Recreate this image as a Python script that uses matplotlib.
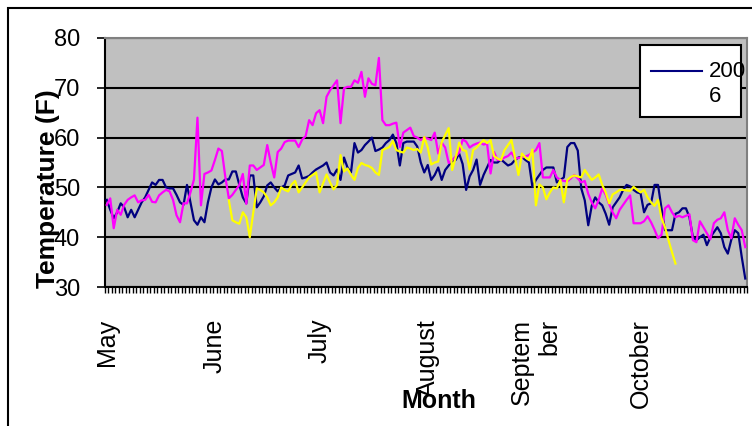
import numpy as np
import matplotlib
matplotlib.use("Agg")
import matplotlib.pyplot as plt
from matplotlib.patches import Rectangle
from matplotlib.lines import Line2D

plt.rcParams['font.family'] = ['Liberation Sans', 'DejaVu Sans']

# daily temperatures, 1 May .. 31 Oct (184 days)
months = ["May", "June", "July", "August", "Septem\nber", "October"]
month_start = [0, 31, 61, 92, 123, 153]

t_2006 = [47.5, 45.5, 43.8, 45, 46.8, 46, 44, 45.5, 44, 45.5,
          47, 48, 49.5, 51, 50.5, 51.5, 51.5, 50, 49.8, 49.8,
          48.5, 47, 46.5, 50.5, 47, 43.4, 42.5, 44, 43, 47,
          50, 51.6, 50.6, 51, 51.6, 51.6, 53.2, 53.2, 50.5, 48,
          46.8, 52.4, 52.4, 46, 47, 48.2, 50.4, 51, 50, 49.2,
          50, 50.4, 52.4, 52.7, 53, 54.4, 51.8, 52, 52.3, 53,
          53.6, 54, 54.4, 55, 53, 52.4, 53.6, 51.5, 56, 54,
          53, 58.9, 57, 57.5, 58.5, 59.2, 60, 57.3, 57.6, 58,
          58.9, 59.5, 60.6, 58.9, 54.4, 58.9, 59.2, 59.2, 59.2, 58.2,
          55, 53, 54.5, 51.5, 52.5, 54, 51.5, 53.5, 54.4, 55.3,
          55.5, 56.8, 54.7, 49.5, 52.2, 53.5, 55.6, 50.5, 52.5, 54,
          55.5, 55, 55, 55.6, 55, 54.4, 54.7, 55.5, 56, 56.1,
          55.5, 55, 50.1, 51.5, 52.5, 53.5, 54, 54, 54, 51,
          51.5, 52, 58.1, 58.9, 58.9, 57.4, 49.8, 47.4, 42.4, 46.3,
          48, 47, 46.4, 44.7, 42.5, 46, 47, 48, 49.5, 50.5,
          50.2, 49.5, 49, 48.8, 45, 46.5, 46.8, 50.5, 50.5, 45.8,
          41.4, 41.4, 41.4, 44.7, 45, 45.8, 45.8, 44, 40, 39.4,
          40, 40.5, 38.4, 40, 41, 42, 40.8, 38, 36.7, 39.5,
          41.4, 40.8, 36, 31.7]

t_magenta = [46.5, 47.8, 41.8, 45.5, 44.5, 46.5, 47.5, 48, 48.4, 47,
             47.4, 47.5, 48.5, 47.1, 47, 48.4, 49, 49.5, 49.2, 47.5,
             44.4, 43, 46.8, 46.8, 49, 51.6, 64, 46.4, 52.7, 53,
             53.4, 55.5, 57.8, 57.3, 52, 47.8, 48.5, 49.5, 50.5, 52.7,
             46.7, 54.4, 54.4, 53.5, 54, 54.5, 58.5, 55, 52, 57.1,
             57.8, 59.1, 59.4, 59.4, 59.4, 58.1, 59.6, 60.3, 63.5, 62.5,
             64.9, 65.5, 62.9, 68.2, 69.5, 70.5, 71.5, 62.9, 69.9, 70.2,
             70.2, 71.5, 71, 73.2, 68.2, 71.9, 70.8, 70.5, 76, 63.5,
             62.5, 62.5, 62.8, 63, 58.1, 61, 61.5, 62, 60.3, 60,
             59.5, 60, 59.8, 59.5, 61, 56.8, 59, 58, 54.9, 55.5,
             56.2, 57, 59.6, 59.2, 58, 58.5, 58.8, 59, 58.6, 58.8,
             52.8, 57.1, 55.5, 55.5, 56, 56.3, 57, 55.8, 55.9, 56,
             56.2, 56.5, 57, 57.5, 58.9, 52, 52, 52, 53.5, 52,
             51.5, 51.3, 51.2, 51.8, 52.5, 51.8, 51, 51.3, 48.7, 47,
             45.8, 47.5, 49.8, 48.5, 46.6, 45, 43.8, 45.5, 46.5, 47.5,
             48.4, 42.8, 42.8, 42.8, 43.2, 44.2, 43, 41.5, 39.8, 40.5,
             45.8, 46.4, 45, 44, 44.3, 44, 44.3, 44.6, 39.4, 39,
             43.2, 42, 40.8, 39.6, 42.8, 43.5, 43.8, 45, 41.4, 39.8,
             43.8, 42.5, 41.4, 38]

# yellow series only runs from 5 June to 11 October
yellow_first = 35
t_yellow = [47.4, 43.4, 43, 42.7, 45, 44, 40, 45, 49.8, 49.5,
            49, 48, 46.4, 47, 48, 50, 49.5, 49.2, 50.6, 51.3,
            49, 50, 51, 52, 52.5, 53, 49, 50.8, 52.6, 51,
            49.6, 50.5, 56.5, 53.2, 53.8, 52.5, 51.5, 53.9, 54.9, 54.5,
            54.3, 53.9, 53, 52.5, 57.5, 57.8, 58.1, 59.3, 57.5, 57.2,
            57, 58, 57.8, 57.5, 57.7, 57, 60.1, 58, 54.6, 55,
            55.2, 59.1, 60.5, 61.9, 53.5, 56, 59, 57.5, 57.3, 53.6,
            57.5, 58, 58.8, 59.5, 58.9, 59.5, 56.3, 55.8, 55.5, 57.5,
            58.5, 59.5, 56, 52.5, 56.8, 56, 55.5, 57.6, 46.4, 50.6,
            50, 47.6, 49, 50, 49.8, 51.5, 47, 51.5, 52.1, 52.4,
            52.2, 52, 53.5, 52.5, 51.5, 52, 52.6, 50.5, 49, 46.8,
            48.6, 49, 49.5, 49.5, 49.4, 49.3, 50.1, 49.5, 49, 49.5,
            48, 47, 46.3, 47.5, 43.8, 42, 39.4, 37, 34.7]

n = len(t_2006)
days = np.arange(n)
yellow_days = np.arange(yellow_first, yellow_first + len(t_yellow))

W, H = 752, 426
fig = plt.figure(figsize=(W / 100, H / 100), dpi=100)
ax = fig.add_axes([105 / W, 1 - 287 / H, 642 / W, 249 / H])
ax.set_facecolor("#C0C0C0")

ax.plot(days, t_2006, color="#000080", lw=1.6, zorder=3)
ax.plot(days, t_magenta, color="#FF00FF", lw=1.6, zorder=3)
ax.plot(yellow_days, t_yellow, color="#FFFF00", lw=1.6, zorder=3)

ax.set_xlim(-0.5, n - 0.5)
ax.set_ylim(30, 80)
ax.set_yticks(np.arange(30, 81, 10))
ax.yaxis.grid(True, color="black", lw=1.5)
ax.set_axisbelow(True)
ax.tick_params(axis="y", labelsize=17, length=6, width=1.2, pad=12, direction="out")

ax.set_xticks(month_start)
ax.set_xticklabels(months, rotation=90, fontsize=18, va="top", ha="center")
ax.set_xticks(np.arange(-0.5, n, 1), minor=True)
ax.tick_params(axis="x", which="major", length=0, pad=23)
ax.tick_params(axis="x", which="minor", length=4, width=1, direction="out")
for lab in ax.get_xticklabels():
    lab.set_multialignment("right")

for side in ["left", "bottom"]:
    ax.spines[side].set_color("black")
    ax.spines[side].set_linewidth(1.5)
for side in ["top", "right"]:
    ax.spines[side].set_color("#808080")
    ax.spines[side].set_linewidth(1.5)

# outer chart frame (runs past the bottom and right edge of the picture)
fig.patches.append(Rectangle((8 / W, -0.1), 1.2, 1.1 - 8 / H, transform=fig.transFigure,
                             fill=False, edgecolor="black", lw=1.5))

# legend box, only the first series fits
fig.patches.append(Rectangle((640 / W, 1 - 117 / H), 101 / W, 72 / H, transform=fig.transFigure,
                             facecolor="white", edgecolor="black", lw=1.5, zorder=5))
fig.lines.append(Line2D([651 / W, 702 / W], [1 - 71 / H, 1 - 71 / H], transform=fig.transFigure,
                        color="#000080", lw=1.5, zorder=6))
fig.text(709 / W, 1 - 84 / H, "200\n6", fontsize=16, va="center", ha="left",
         linespacing=1.2, zorder=7)

fig.text(48 / W, 1 - 189 / H, "Temperature (F)", rotation=90, fontsize=19,
         fontweight="bold", ha="center", va="center")
fig.text(439 / W, 1 - 401 / H, "Month", fontsize=18, fontweight="bold",
         ha="center", va="center")

fig.savefig("out.png", dpi=100)
